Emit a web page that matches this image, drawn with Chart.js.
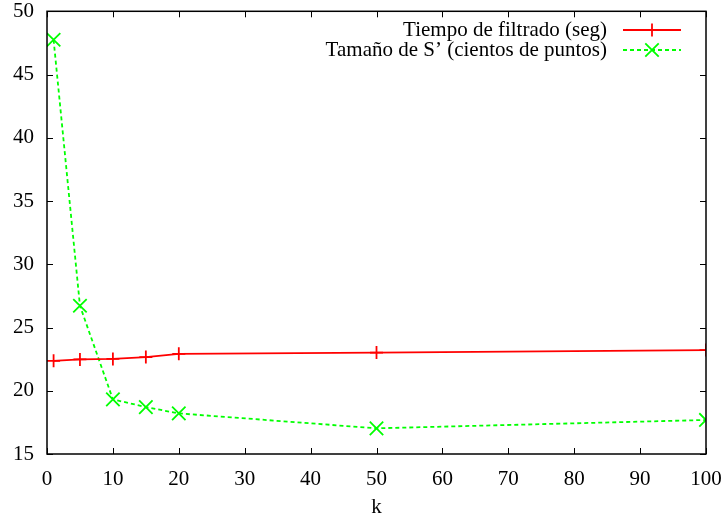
<!DOCTYPE html>
<html>
<head>
<meta charset="utf-8">
<script src="https://cdn.jsdelivr.net/npm/chart.js@4"></script>
<style>
  body { margin: 0; background: #fff; }
  #wrap { width: 725px; height: 520px; }
</style>
</head>
<body>
<div id="wrap"><canvas id="plot"></canvas></div>
<script>
// data
const kValues = [1, 5, 10, 15, 20, 50, 100];
const filterTime = [22.37, 22.48, 22.52, 22.66, 22.92, 23.02, 23.22];
const sizeSprime = [47.75, 26.72, 19.32, 18.71, 18.21, 17.03, 17.69];
const seriesNames = ['Tiempo de filtrado (seg)', 'Tamaño de S\u2019 (cientos de puntos)'];
const xTicks = [0, 10, 20, 30, 40, 50, 60, 70, 80, 90, 100];
const yTicks = [15, 20, 25, 30, 35, 40, 45, 50];

const FONT = '"Liberation Serif", "Times New Roman", serif';

// gnuplot style frame with ticks pointing inwards on all sides
const framePlugin = {
  id: 'frame',
  afterDatasetsDraw(chart) {
    const ctx = chart.ctx;
    const a = chart.chartArea;
    const xs = chart.scales.x, ys = chart.scales.y;
    const len = 6;
    ctx.save();
    ctx.strokeStyle = '#000';
    ctx.lineWidth = 1;
    ctx.beginPath();
    xTicks.forEach(v => {
      const px = Math.round(xs.getPixelForValue(v)) + 0.5;
      ctx.moveTo(px, a.bottom); ctx.lineTo(px, a.bottom - len);
      ctx.moveTo(px, a.top); ctx.lineTo(px, a.top + len);
    });
    yTicks.forEach(v => {
      const py = Math.round(ys.getPixelForValue(v)) + 0.5;
      ctx.moveTo(a.left, py); ctx.lineTo(a.left + len, py);
      ctx.moveTo(a.right, py); ctx.lineTo(a.right - len, py);
    });
    ctx.stroke();
    ctx.lineWidth = 1.5;
    ctx.strokeRect(a.left, a.top, a.right - a.left, a.bottom - a.top);
    ctx.restore();
  }
};

// legend: text right aligned, sample line to the right
const keyPlugin = {
  id: 'key',
  afterDraw(chart) {
    const ctx = chart.ctx;
    const textRight = 607, lineL = 623, lineR = 681;
    const rows = [30, 50];
    ctx.save();
    ctx.font = '21px ' + FONT;
    ctx.textAlign = 'right';
    ctx.textBaseline = 'middle';
    chart.data.datasets.forEach((ds, i) => {
      const y = rows[i];
      ctx.fillStyle = '#000';
      ctx.fillText(ds.label, textRight, y);
      ctx.strokeStyle = ds.borderColor;
      ctx.lineWidth = ds.borderWidth;
      ctx.setLineDash(ds.borderDash || []);
      ctx.beginPath();
      ctx.moveTo(lineL, y); ctx.lineTo(lineR, y);
      ctx.stroke();
      ctx.setLineDash([]);
      Chart.helpers.drawPoint(ctx, {
        pointStyle: ds.pointStyle, radius: ds.pointRadius, borderWidth: ds.pointBorderWidth, rotation: 0
      }, (lineL + lineR) / 2, y);
    });
    ctx.restore();
  }
};

new Chart(document.getElementById('plot'), {
  type: 'line',
  data: {
    datasets: [
      {
        label: seriesNames[0],
        data: kValues.map((k, i) => ({ x: k, y: filterTime[i] })),
        borderColor: '#ff0000',
        borderWidth: 1.8,
        pointStyle: 'cross',
        pointRadius: 6.5,
        pointBorderWidth: 1.8,
        pointBorderColor: '#ff0000',
        fill: false
      },
      {
        label: seriesNames[1],
        data: kValues.map((k, i) => ({ x: k, y: sizeSprime[i] })),
        borderColor: '#00ff00',
        borderWidth: 1.8,
        borderDash: [4, 3],
        pointStyle: 'crossRot',
        pointRadius: 9.5,
        pointBorderWidth: 1.8,
        pointBorderColor: '#00ff00',
        fill: false
      }
    ]
  },
  options: {
    responsive: true,
    maintainAspectRatio: false,
    animation: false,
    layout: { padding: { left: 0, right: 19, top: 11, bottom: 0 } },
    plugins: { legend: { display: false }, tooltip: { enabled: false } },
    scales: {
      x: {
        type: 'linear',
        min: 0,
        max: 100,
        grid: { display: false },
        border: { display: false },
        afterBuildTicks: s => { s.ticks = xTicks.map(v => ({ value: v })); },
        afterFit: s => { s.height = 66; s.paddingLeft = 0; s.paddingRight = 0; },
        ticks: { color: '#000', padding: 5, maxRotation: 0, font: { family: FONT, size: 21 } },
        title: { display: true, text: 'k', color: '#000', padding: { top: 4, bottom: 0 }, font: { family: FONT, size: 21 } }
      },
      y: {
        min: 15,
        max: 50,
        grid: { display: false },
        border: { display: false },
        afterBuildTicks: s => { s.ticks = yTicks.map(v => ({ value: v })); },
        afterFit: s => { s.width = 47; s.paddingTop = 0; s.paddingBottom = 0; },
        ticks: { color: '#000', padding: 5, font: { family: FONT, size: 21 } }
      }
    }
  },
  plugins: [framePlugin, keyPlugin]
});
</script>
</body>
</html>
